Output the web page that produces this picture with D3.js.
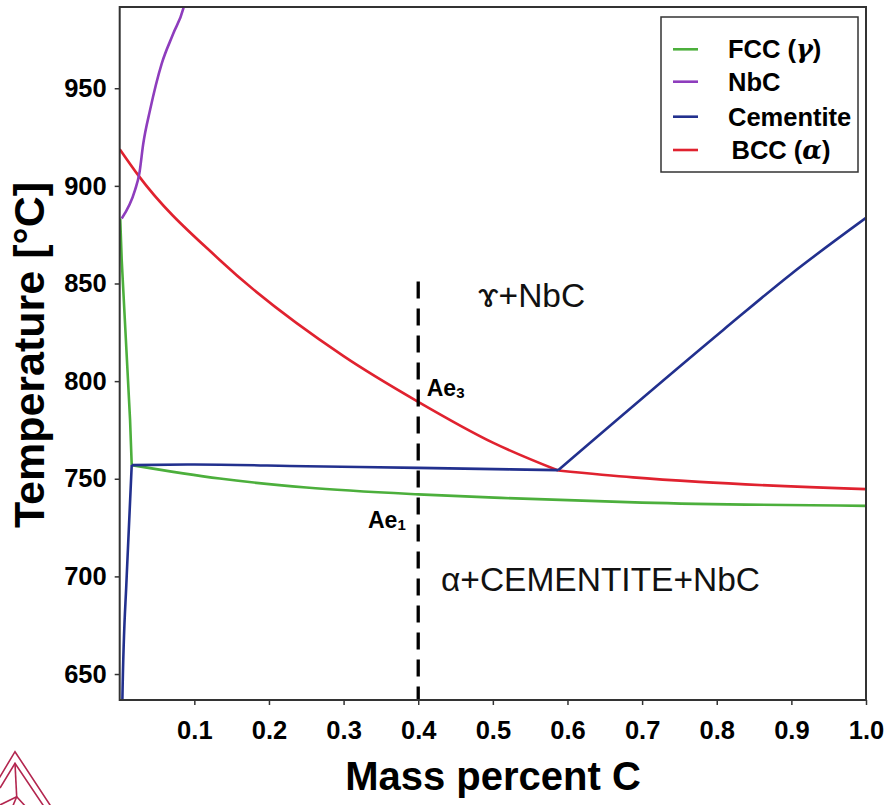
<!DOCTYPE html>
<html>
<head>
<meta charset="utf-8">
<script src="https://cdn.jsdelivr.net/npm/d3@7"></script>
<style>
  html, body { margin: 0; padding: 0; background: #fff; }
  svg { display: block; font-family: "Liberation Sans", Arial, sans-serif; }
</style>
</head>
<body>
<svg id="chart" width="887" height="805"></svg>
<script>
// ---------------- DATA (mass percent C, temperature °C) ----------------
const xTicks = [0.1, 0.2, 0.3, 0.4, 0.5, 0.6, 0.7, 0.8, 0.9, 1.0];
const yTicks = [650, 700, 750, 800, 850, 900, 950];

// FCC (gamma) boundary
const fccSteep = [[0.0007, 883.3], [0.0027, 862], [0.0139, 780], [0.0161, 757.0]];
const fccLower = [[0.0161, 757.0], [0.134, 750.1], [0.25, 745.5], [0.4, 742.0], [0.511, 740.2], [0.7, 737.8], [1.0, 736.1]];

// NbC boundary
const nbcBoundary = [[0.0027, 883.3], [0.0205, 897.8], [0.0263, 906.3], [0.0316, 921.7], [0.0406, 938.7],
                     [0.0563, 962.6], [0.0718, 978.0], [0.0852, 990.8], [0.0885, 996.0]];

// Cementite boundary
const cemSolvus = [[0.0036, 630.0], [0.0036, 636.7], [0.0094, 700.3], [0.0161, 757.0]];
const cemEutectoid = [[0.0161, 757.0], [0.1, 757.3], [0.25, 756.4], [0.4, 755.6], [0.5875, 754.4]];
const cemAcm = [[0.5875, 754.4], [0.8087, 826.2], [0.8981, 854.4], [1.0, 883.6]];

// BCC (alpha) boundary
const bccUpper = [[0.0, 918.8], [0.0247, 905.5], [0.1344, 861.9], [0.3, 812.8], [0.4, 789.4], [0.5, 768.5], [0.5875, 754.2]];
const bccLower = [[0.5875, 754.2], [0.688, 750.7], [0.7766, 748.4], [1.0, 744.7]];

const dashedC = 0.4;
const dashedRange = [851, 636.7];

const legendNames = ["FCC", "NbC", "Cementite", "BCC"];
const legendSymbols = ["γ", "", "", "α"];
const colors = { FCC: "#4caf3c", NbC: "#8e3dbd", Cementite: "#22308e", BCC: "#e0222f" };

const regionLabels = [
  { text: "ɤ+NbC", c: 0.48, t: 838.1 },
  { text: "α+CEMENTITE+NbC", c: 0.4305, t: 692.5 }
];

// ---------------- CHART ----------------
const svg = d3.select("#chart");
const L = 119.7, R = 866, T = 7, B = 700;

const x = d3.scaleLinear().domain([0, 1.0]).range([L, R]);
const y = d3.scaleLinear().domain([636.7, 991.6]).range([B, T]);

svg.append("defs").append("clipPath").attr("id", "clip")
  .append("rect").attr("x", L).attr("y", T).attr("width", R - L).attr("height", B - T);

// axes
const xAxis = svg.append("g").attr("transform", `translate(0,${B})`)
  .call(d3.axisBottom(x).tickValues(xTicks).tickFormat(d3.format(".1f")).tickSize(5).tickPadding(16));
const yAxis = svg.append("g").attr("transform", `translate(${L},0)`)
  .call(d3.axisLeft(y).tickValues(yTicks).tickFormat(d3.format("d")).tickSize(5).tickPadding(8));

[xAxis, yAxis].forEach(g => {
  g.select(".domain").remove();
  g.selectAll(".tick line").attr("stroke", "#333").attr("stroke-width", 1.5);
  g.selectAll(".tick text").attr("fill", "#000").style("font-size", "25.5px").style("font-weight", "bold")
    .style("font-family", "'Liberation Sans', Arial, sans-serif");
});

// curves
const line = d3.line().x(d => x(d[0])).y(d => y(d[1])).curve(d3.curveMonotoneX);
const lineLin = d3.line().x(d => x(d[0])).y(d => y(d[1]));
const plot = svg.append("g").attr("clip-path", "url(#clip)");

const series = [
  { data: fccSteep, color: colors.FCC, gen: lineLin },
  { data: fccLower, color: colors.FCC, gen: line },
  { data: bccUpper, color: colors.BCC, gen: line },
  { data: bccLower, color: colors.BCC, gen: line },
  { data: cemSolvus, color: colors.Cementite, gen: line },
  { data: cemEutectoid, color: colors.Cementite, gen: line },
  { data: cemAcm, color: colors.Cementite, gen: line },
  { data: nbcBoundary, color: colors.NbC, gen: line }
];
series.forEach(s => {
  plot.append("path").attr("d", s.gen(s.data)).attr("fill", "none")
    .attr("stroke", s.color).attr("stroke-width", 2.6).attr("stroke-linejoin", "round");
});

// dashed line
plot.append("line")
  .attr("x1", x(dashedC)).attr("x2", x(dashedC))
  .attr("y1", y(dashedRange[0])).attr("y2", y(dashedRange[1]))
  .attr("stroke", "#000").attr("stroke-width", 3.3).attr("stroke-dasharray", "17,10");

// frame
svg.append("rect").attr("x", L).attr("y", T).attr("width", R - L).attr("height", B - T)
  .attr("fill", "none").attr("stroke", "#333").attr("stroke-width", 2);

// region labels
regionLabels.forEach(r => {
  svg.append("text").attr("x", x(r.c)).attr("y", y(r.t)).text(r.text)
    .style("font-size", "33.5px").attr("fill", "#111");
});

// Ae labels
const ae3 = svg.append("text").attr("x", x(0.4114)).attr("y", y(792.5))
  .style("font-size", "23px").style("font-weight", "bold");
ae3.append("tspan").text("Ae");
ae3.append("tspan").text("3").style("font-size", "15px").attr("dy", 2);
const ae1 = svg.append("text").attr("x", x(0.3327)).attr("y", y(724.8))
  .style("font-size", "23px").style("font-weight", "bold");
ae1.append("tspan").text("Ae");
ae1.append("tspan").text("1").style("font-size", "15px").attr("dy", 2);

// legend
const lg = svg.append("g");
lg.append("rect").attr("x", 661).attr("y", 17).attr("width", 197).attr("height", 155)
  .attr("fill", "#fff").attr("stroke", "#333").attr("stroke-width", 1.5);
const legY = [49.3, 81.7, 116.7, 150];
legendNames.forEach((n, i) => {
  lg.append("line").attr("x1", 673).attr("x2", 698).attr("y1", legY[i]).attr("y2", legY[i])
    .attr("stroke", colors[n]).attr("stroke-width", 2.6);
  const t = lg.append("text").attr("x", i === 3 ? 731.5 : 728).attr("y", legY[i] + 9)
    .style("font-size", "25.5px").style("font-weight", "bold");
  t.append("tspan").text(n);
  if (legendSymbols[i]) {
    t.append("tspan").text(" (");
    t.append("tspan").text(legendSymbols[i]).style("font-style", "italic")
      .style("font-family", "'DejaVu Serif', 'Liberation Serif', serif").style("font-weight", "bold");
    t.append("tspan").text(")");
  }
});

// axis titles
svg.append("text").attr("x", 493).attr("y", 790).attr("text-anchor", "middle")
  .style("font-size", "40px").style("font-weight", "bold").text("Mass percent C");
svg.append("text").attr("transform", "translate(44,355) rotate(-90)").attr("text-anchor", "middle")
  .style("font-size", "43px").style("font-weight", "bold").text("Temperature [°C]");

// logo (decorative, partially cropped)
const logo = svg.append("g").attr("fill", "none").attr("stroke", "#b3264f").attr("stroke-width", 1.6);
[
  [[-20, 810], [15, 751.7], [52, 808]],
  [[0, 788], [15, 763.3], [45, 808]],
  [[15, 763.3], [16.7, 796.7]],
  [[0, 805], [16.7, 796.7], [27, 808]],
  [[16.7, 796.7], [12, 808]]
].forEach(p => logo.append("path").attr("d", d3.line()(p)));
</script>
</body>
</html>
